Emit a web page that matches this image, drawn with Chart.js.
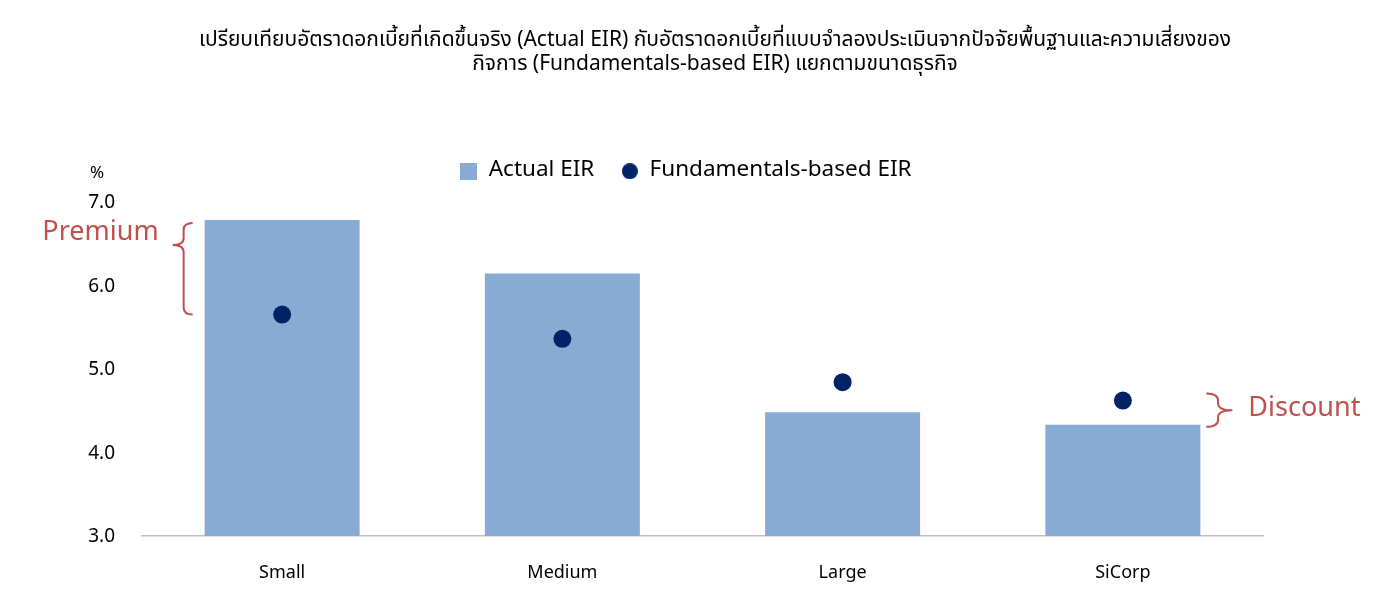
<!DOCTYPE html>
<html>
<head>
<meta charset="utf-8">
<script src="https://cdn.jsdelivr.net/npm/chart.js@4"></script>
<style>
  html, body { margin: 0; padding: 0; background: #fff; }
  #wrap { width: 1380px; height: 599px; }
</style>
</head>
<body>
<div id="wrap"><canvas id="chart"></canvas></div>
<script>
const titleLines = [
  'เปรียบเทียบอัตราดอกเบี้ยที่เกิดขึ้นจริง (Actual EIR) กับอัตราดอกเบี้ยที่แบบจำลองประเมินจากปัจจัยพื้นฐานและความเสี่ยงของ',
  'กิจการ (Fundamentals-based EIR) แยกตามขนาดธุรกิจ',
];
const categories = ['Small', 'Medium', 'Large', 'SiCorp'];
const actualEir = [6.78, 6.14, 4.48, 4.33];
const fundamentalsEir = [5.65, 5.36, 4.84, 4.62];
const yMin = 3;
const yMax = 7;

const FONT = "'Noto Sans Thai', 'Noto Sans', 'DejaVu Sans', sans-serif";
const RED = '#C0504D';
const BAR_BLUE = '#89AAD3';
const NAVY = '#002366';

// legend markers: a square for the bars, a dot for the model estimate
const makeMarker = (size, color, round) => {
  const c = document.createElement('canvas');
  c.width = size;
  c.height = size;
  const g = c.getContext('2d');
  g.fillStyle = color;
  if (round) {
    g.beginPath();
    g.arc(size / 2, size / 2, size / 2, 0, Math.PI * 2);
    g.fill();
  } else {
    g.fillRect(0, 0, size, size);
  }
  return c;
};
const legendMarkers = [makeMarker(17, BAR_BLUE, false), makeMarker(16, NAVY, true)];

const drawBrace = (ctx, x0, x1, top, bottom, cuspY) => {
  // x0 = open side, x1 = tip of the cusp
  const xm = x0 + (x1 - x0) * 0.45;
  const r = 7;
  ctx.beginPath();
  ctx.moveTo(x0, top);
  ctx.quadraticCurveTo(xm, top, xm, top + r);
  ctx.lineTo(xm, cuspY - r);
  ctx.quadraticCurveTo(xm, cuspY, x1, cuspY);
  ctx.quadraticCurveTo(xm, cuspY, xm, cuspY + r);
  ctx.lineTo(xm, bottom - r);
  ctx.quadraticCurveTo(xm, bottom, x0, bottom);
  ctx.stroke();
};

const annotations = {
  id: 'annotations',
  afterDraw(chart) {
    const { ctx, scales } = chart;
    const y = scales.y;
    const bars = chart.getDatasetMeta(0).data;

    ctx.save();
    // title, centred a little right of the canvas middle
    ctx.fillStyle = '#000';
    ctx.font = `21px ${FONT}`;
    ctx.textAlign = 'center';
    ctx.textBaseline = 'middle';
    titleLines.forEach((line, i) => ctx.fillText(line, 715, 42 + i * 24));

    // % unit above y ticks
    ctx.font = `17px ${FONT}`;
    ctx.fillText('%', 97, y.getPixelForValue(yMax) - 27);

    ctx.strokeStyle = RED;
    ctx.lineWidth = 2;
    ctx.fillStyle = RED;
    ctx.font = `27px ${FONT}`;

    // Premium: first category
    const b0 = bars[0];
    const left0 = b0.x - b0.width / 2;
    const pTop = y.getPixelForValue(actualEir[0]) + 3;
    const pBot = y.getPixelForValue(fundamentalsEir[0]);
    drawBrace(ctx, left0 - 12, left0 - 32, pTop, pBot, pTop + (pBot - pTop) * 0.24);
    ctx.textAlign = 'right';
    ctx.fillText('Premium', left0 - 46, pTop + 11);

    // Discount: last category
    const b3 = bars[bars.length - 1];
    const right3 = b3.x + b3.width / 2;
    const dTop = y.getPixelForValue(fundamentalsEir[3]) - 7;
    const dBot = y.getPixelForValue(actualEir[3]) + 2;
    drawBrace(ctx, right3 + 6, right3 + 32, dTop, dBot, (dTop + dBot) / 2);
    ctx.textAlign = 'left';
    ctx.fillText('Discount', right3 + 48, (dTop + dBot) / 2);
    ctx.restore();
  },
};

new Chart(document.getElementById('chart'), {
  data: {
    labels: categories,
    datasets: [
      {
        type: 'bar',
        label: 'Actual EIR',
        data: actualEir,
        backgroundColor: BAR_BLUE,
        categoryPercentage: 1,
        barPercentage: 0.553,
        order: 2,
      },
      {
        type: 'line',
        label: 'Fundamentals-based EIR',
        data: fundamentalsEir,
        showLine: false,
        pointRadius: 9,
        pointHoverRadius: 9,
        pointStyle: 'circle',
        backgroundColor: NAVY,
        borderColor: NAVY,
        pointBorderWidth: 0,
        order: 1,
      },
    ],
  },
  options: {
    responsive: true,
    maintainAspectRatio: false,
    animation: false,
    layout: {
      padding: { left: 0, right: 8, top: 133, bottom: 0 },
    },
    scales: {
      x: {
        grid: { display: false },
        border: { color: '#BFBFBF', width: 1.5 },
        afterFit: (scale) => { scale.height = 63; },
        ticks: {
          color: '#000',
          padding: 20,
          font: { family: FONT, size: 18 },
        },
      },
      y: {
        min: yMin,
        max: yMax,
        grid: { display: false },
        border: { display: false },
        afterFit: (scale) => { scale.width = 142; },
        ticks: {
          stepSize: 1,
          color: '#000',
          padding: 19,
          labelOffset: 2.5,
          font: { family: FONT, size: 19 },
          callback: (v) => Number(v).toFixed(1),
        },
      },
      // empty right-hand axis, only to hold the right margin
      yRight: {
        position: 'right',
        min: yMin,
        max: yMax,
        grid: { display: false },
        border: { display: false },
        ticks: { display: false },
        afterFit: (scale) => { scale.width = 109; },
      },
    },
    plugins: {
      title: { display: false },
      // blank spacer between legend and plot
      subtitle: {
        display: true,
        text: '',
        weight: 500,
        font: { size: 1 },
        padding: { top: 0, bottom: 8 },
      },
      legend: {
        display: true,
        labels: {
          usePointStyle: true,
          boxWidth: 17,
          boxHeight: 17,
          padding: 27,
          color: '#000',
          font: { family: FONT, size: 22.5 },
          sort: (a, b) => a.datasetIndex - b.datasetIndex,
          generateLabels: (chart) => {
            const items = Chart.defaults.plugins.legend.labels.generateLabels(chart);
            items.forEach((item) => { item.pointStyle = legendMarkers[item.datasetIndex]; });
            return items;
          },
        },
      },
      tooltip: { enabled: false },
    },
  },
  plugins: [annotations],
});
</script>
</body>
</html>
